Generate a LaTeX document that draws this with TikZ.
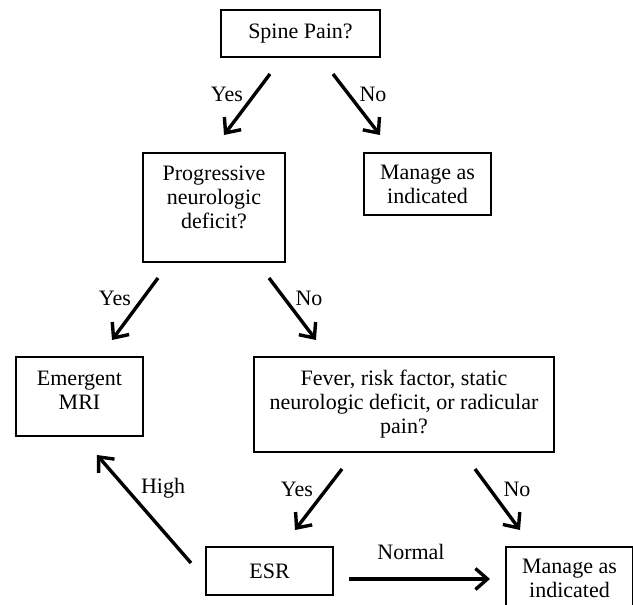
\documentclass[tikz,border=0pt]{standalone}
\usepackage{fontspec}
\setmainfont{Liberation Serif}
\usetikzlibrary{arrows.meta}
\begin{document}
\begin{tikzpicture}[x=1pt,y=-1pt,
  box/.style={draw, line width=1.3pt, align=center, inner sep=0pt,
    font=\fontsize{22}{24}\selectfont},
  arr/.style={line width=3.4pt, -{Straight Barb[length=12pt,width=21pt,line width=3.4pt]}},
  lab/.style={font=\fontsize{22}{24}\selectfont}]
\useasboundingbox (0,0) rectangle (633,605);
\node[box, minimum width=159pt, minimum height=47pt] (spine) at (300.5,33.5) {Spine Pain?};
\node[box, minimum width=142pt, minimum height=109pt, text depth=20pt] (prog) at (214,207.5) {Progressive\\neurologic\\deficit?};
\node[box, minimum width=127pt, minimum height=62pt] (man1) at (427.5,184) {Manage as\\indicated};
\node[box, minimum width=127pt, minimum height=79pt, text depth=12pt] (emr) at (79.5,396.5) {Emergent\\MRI};
\node[box, minimum width=300pt, minimum height=95pt] (fever) at (404,404.5) {Fever, risk factor, static\\neurologic deficit, or radicular\\pain?};
\node[box, minimum width=127pt, minimum height=48pt] (esr) at (269.5,571) {ESR};
\node[box, minimum width=127pt, minimum height=62pt] (man2) at (569.5,578) {Manage as\\indicated};

\coordinate (a1s) at (270,74);  \coordinate (a1e) at (224,135);
\coordinate (a2s) at (333,74);  \coordinate (a2e) at (380,135);
\coordinate (a3s) at (158,278); \coordinate (a3e) at (112,340);
\coordinate (a4s) at (269,278); \coordinate (a4e) at (316,340);
\coordinate (a5s) at (342,469); \coordinate (a5e) at (295,530);
\coordinate (a6s) at (475,469); \coordinate (a6e) at (520,530);
\coordinate (a7s) at (191,563); \coordinate (a7e) at (97,455);
\coordinate (a8s) at (349,579); \coordinate (a8e) at (490,579);

\draw[arr] (a1s) -- (a1e);
\draw[arr] (a2s) -- (a2e);
\draw[arr] (a3s) -- (a3e);
\draw[arr] (a4s) -- (a4e);
\draw[arr] (a5s) -- (a5e);
\draw[arr] (a6s) -- (a6e);
\draw[arr] (a7s) -- (a7e);
\draw[arr] (a8s) -- (a8e);

\node[lab] (l1) at (227,94) {Yes};
\node[lab] (l2) at (373,94) {No};
\node[lab] (l3) at (115,298) {Yes};
\node[lab] (l4) at (309,298) {No};
\node[lab] (l5) at (297,489) {Yes};
\node[lab] (l6) at (517,489) {No};
\node[lab] (l7) at (163,488) {High};
\node[lab] (l8) at (411,552) {Normal};
\end{tikzpicture}
\end{document}
